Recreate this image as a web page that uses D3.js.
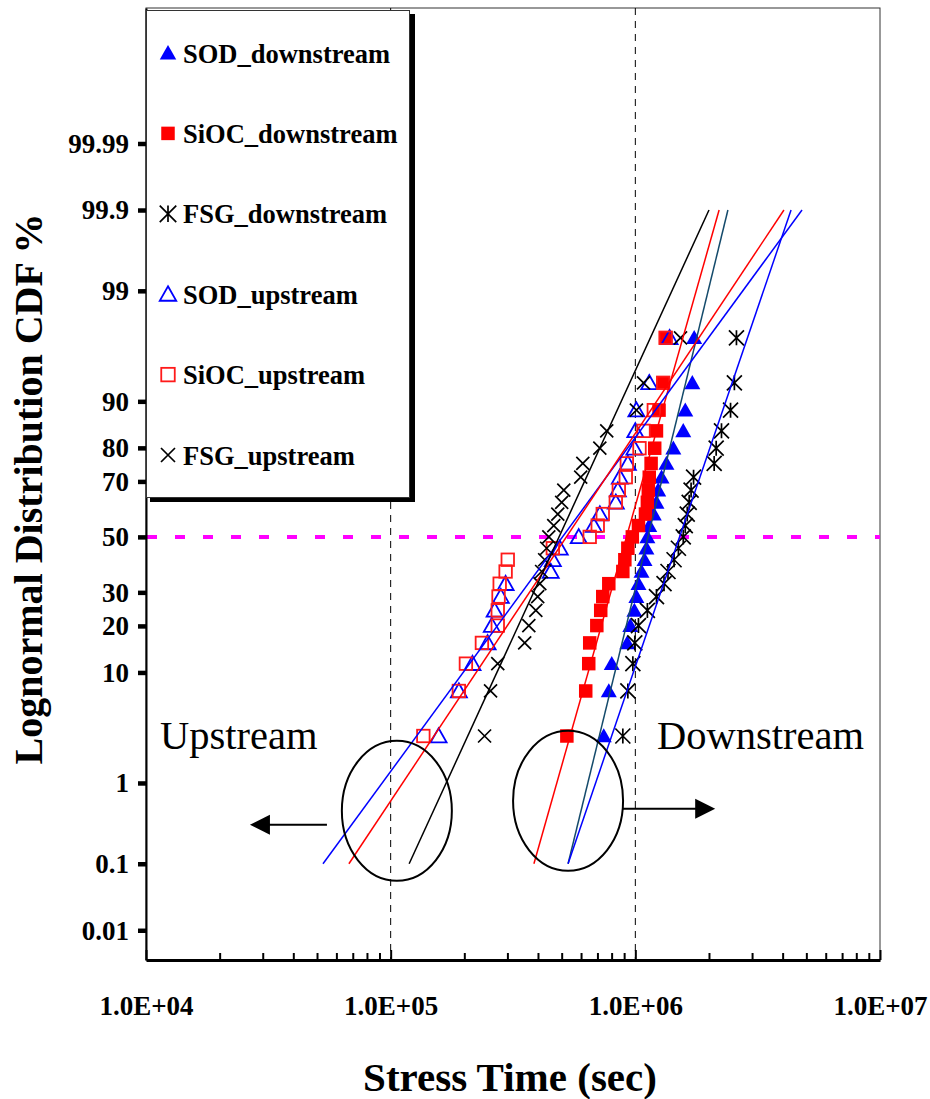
<!DOCTYPE html>
<html><head><meta charset="utf-8">
<script src="https://cdn.jsdelivr.net/npm/d3@7"></script>
<style>
body{margin:0;background:#fff}
svg{display:block}
text{font-family:"Liberation Serif","Times New Roman",serif}
</style>
</head><body>
<svg id="chart" width="930" height="1099"></svg>
<script>
// ---------------- DATA ----------------
// cumulative failure percent (median ranks) shared by every series, 23 samples each
const cdfPercent = [2.99,7.26,11.54,15.81,20.09,24.36,28.63,32.91,37.18,41.45,45.73,50.00,
                    54.27,58.55,62.82,67.09,71.37,75.64,79.91,84.19,88.46,92.74,97.01];
// failure times (sec)
const sodDownstream  = [7.43e5,7.79e5,8.01e5,9.27e5,9.54e5,9.91e5,1.01e6,1.03e6,1.06e6,1.09e6,1.11e6,1.12e6,
                        1.14e6,1.19e6,1.22e6,1.24e6,1.28e6,1.34e6,1.43e6,1.57e6,1.60e6,1.71e6,1.74e6];
const siocDownstream = [5.25e5,6.27e5,6.45e5,6.51e5,6.96e5,7.22e5,7.36e5,7.79e5,8.89e5,9.06e5,9.32e5,9.72e5,
                        1.03e6,1.10e6,1.12e6,1.13e6,1.14e6,1.16e6,1.20e6,1.22e6,1.25e6,1.30e6,1.33e6];
const fsgDownstream  = [8.89e5,9.32e5,9.77e5,9.95e5,1.03e6,1.12e6,1.22e6,1.31e6,1.36e6,1.44e6,1.50e6,1.57e6,
                        1.60e6,1.63e6,1.66e6,1.69e6,1.73e6,2.10e6,2.14e6,2.25e6,2.45e6,2.54e6,2.59e6];
const sodUpstream    = [1.57e5,1.90e5,2.16e5,2.49e5,2.59e5,2.66e5,2.82e5,2.95e5,4.51e5,4.60e5,4.91e5,5.87e5,
                        6.76e5,7.16e5,8.32e5,8.48e5,8.64e5,9.32e5,9.91e5,1.00e6,1.01e6,1.14e6,1.38e6];
const siocUpstream   = [1.36e5,1.90e5,2.03e5,2.36e5,2.74e5,2.74e5,2.76e5,2.79e5,2.95e5,3.01e5,4.60e5,6.51e5,
                        7.02e5,7.36e5,8.32e5,8.56e5,9.14e5,9.23e5,1.04e6,1.08e6,1.19e6,1.30e6,1.33e6];
const fsgUpstream    = [2.42e5,2.56e5,2.74e5,3.53e5,3.67e5,3.92e5,3.99e5,4.07e5,4.14e5,4.26e5,4.34e5,4.43e5,
                        4.64e5,4.82e5,5.00e5,5.10e5,5.98e5,6.10e5,7.16e5,7.64e5,1.01e6,1.08e6,1.53e6];

const seriesNames = ["SOD_downstream","SiOC_downstream","FSG_downstream","SOD_upstream","SiOC_upstream","FSG_upstream"];
const seriesTimes = [sodDownstream, siocDownstream, fsgDownstream, sodUpstream, siocUpstream, fsgUpstream];
// lognormal fit lines: time at 0.1 % and at 99.9 %
const fitPercents   = [0.1, 99.9];
const fitTimeLow    = [5.31e5, 3.85e5, 5.31e5, 5.29e4, 6.75e4, 1.19e5];
const fitTimeHigh   = [2.39e6, 2.20e6, 4.33e6, 4.80e6, 4.05e6, 2.00e6];

const yTickPercents = [0.01,0.1,1,10,20,30,50,70,80,90,99,99.9,99.99];
const yTickLabels   = ["0.01","0.1","1","10","20","30","50","70","80","90","99","99.9","99.99"];
const xTickValues   = [1e4,1e5,1e6,1e7];
const xTickLabels   = ["1.0E+04","1.0E+05","1.0E+06","1.0E+07"];
const refTimes      = [1e5,1e6];
const refPercent    = 50;

// ---------------- STYLE ----------------
const markerStyle = [
  {shape:"tri",  fill:"#0000ff", stroke:"none",    size:16},
  {shape:"sq",   fill:"#ff0000", stroke:"none",    size:13.5},
  {shape:"ast",  fill:"none",    stroke:"#000",    size:15},
  {shape:"tri",  fill:"none",    stroke:"#0000ff", size:16},
  {shape:"sq",   fill:"none",    stroke:"#ff1a1a", size:12.5},
  {shape:"x",    fill:"none",    stroke:"#000",    size:13}
];
const lineColors = ["#144a6b","#ff0000","#0000ff","#0000ff","#ff0000","#000000"];

// inverse standard normal CDF (Acklam)
function probit(p){
  const a=[-3.969683028665376e+01,2.209460984245205e+02,-2.759285104469687e+02,1.383577518672690e+02,-3.066479806614716e+01,2.506628277459239e+00];
  const b=[-5.447609879822406e+01,1.615858368580409e+02,-1.556989798598866e+02,6.680131188771972e+01,-1.328068155288572e+01];
  const c=[-7.784894002430293e-03,-3.223964580411365e-01,-2.400758277161838e+00,-2.549732539343734e+00,4.374664141464968e+00,2.938163982698783e+00];
  const d=[7.784695709041462e-03,3.224671290700398e-01,2.445134137142996e+00,3.754408661907416e+00];
  const pl=0.02425, ph=1-pl; let q,r;
  if(p<pl){q=Math.sqrt(-2*Math.log(p));return (((((c[0]*q+c[1])*q+c[2])*q+c[3])*q+c[4])*q+c[5])/((((d[0]*q+d[1])*q+d[2])*q+d[3])*q+1);}
  if(p<=ph){q=p-0.5;r=q*q;return (((((a[0]*r+a[1])*r+a[2])*r+a[3])*r+a[4])*r+a[5])*q/(((((b[0]*r+b[1])*r+b[2])*r+b[3])*r+b[4])*r+1);}
  q=Math.sqrt(-2*Math.log(1-p));return -(((((c[0]*q+c[1])*q+c[2])*q+c[3])*q+c[4])*q+c[5])/((((d[0]*q+d[1])*q+d[2])*q+d[3])*q+1);
}

// ---------------- SCALES ----------------
const L=146, R=880, T=8, B=960;
const x  = d3.scaleLog().domain([1e4,1e7]).range([L,R]);
const yz = d3.scaleLinear().domain([-4,5]).range([B,T]);
const y  = p => yz(probit(p/100));

const svg = d3.select("#chart");

function marker(g, st, cx, cy, s){
  if(st.shape==="tri"){
    const h=s*0.88;
    g.append("path").attr("d",`M${cx},${cy-h*0.55}L${cx+s/2},${cy+h*0.45}L${cx-s/2},${cy+h*0.45}Z`)
      .attr("fill",st.fill).attr("stroke",st.stroke).attr("stroke-width",1.8).attr("stroke-linejoin","miter");
  } else if(st.shape==="sq"){
    g.append("rect").attr("x",cx-s/2).attr("y",cy-s/2).attr("width",s).attr("height",s)
      .attr("fill",st.fill).attr("stroke",st.stroke).attr("stroke-width",1.8);
  } else if(st.shape==="ast"){
    const h=s/2;
    g.append("path").attr("d",`M${cx-h},${cy-h}L${cx+h},${cy+h}M${cx+h},${cy-h}L${cx-h},${cy+h}M${cx},${cy-h}L${cx},${cy+h}`)
      .attr("stroke",st.stroke).attr("stroke-width",1.7).attr("fill","none");
  } else {
    const h=s/2;
    g.append("path").attr("d",`M${cx-h},${cy-h}L${cx+h},${cy+h}M${cx+h},${cy-h}L${cx-h},${cy+h}`)
      .attr("stroke",st.stroke).attr("stroke-width",1.7).attr("fill","none");
  }
}

// frame
svg.append("rect").attr("x",L).attr("y",T).attr("width",R-L).attr("height",B-T)
  .attr("fill","#fff").attr("stroke","#333").attr("stroke-width",1);

// reference dashed verticals
svg.append("g").selectAll("line").data(refTimes).join("line")
  .attr("x1",d=>x(d)).attr("x2",d=>x(d)).attr("y1",T).attr("y2",B)
  .attr("stroke","#000").attr("stroke-width",1).attr("stroke-dasharray","7,6");

// 50% magenta dashed
svg.append("line").attr("x1",L+1).attr("x2",R).attr("y1",y(refPercent)).attr("y2",y(refPercent))
  .attr("stroke","#ff00ff").attr("stroke-width",4).attr("stroke-dasharray","10,18");

// markers
seriesTimes.forEach((arr,si)=>{
  const g = svg.append("g");
  arr.forEach((t,i)=> marker(g, markerStyle[si], x(t), y(cdfPercent[i]), markerStyle[si].size));
});

// fit lines
const lineGen = d3.line().x(d=>x(d[0])).y(d=>y(d[1]));
seriesTimes.forEach((arr,si)=>{
  svg.append("path").datum([[fitTimeLow[si],fitPercents[0]],[fitTimeHigh[si],fitPercents[1]]])
    .attr("d",lineGen).attr("fill","none").attr("stroke",lineColors[si]).attr("stroke-width",1.5);
});

// y axis
const yAxis = d3.axisLeft(yz).tickValues(yTickPercents.map(p=>probit(p/100)))
  .tickFormat((d,i)=>yTickLabels[i]).tickSizeInner(8).tickSizeOuter(0).tickPadding(9);
const gy = svg.append("g").attr("transform",`translate(${L},0)`).call(yAxis);
gy.select(".domain").attr("stroke","#000").attr("stroke-width",2);
gy.selectAll(".tick line").attr("stroke","#000").attr("stroke-width",4.5);
gy.selectAll(".tick text").attr("font-family","Liberation Serif").attr("font-weight","bold")
  .attr("font-size",27).attr("fill","#000").attr("dy","0.33em");

// x axis: minor + major ticks inward
const minorTicks = [];
[1e4,1e5,1e6].forEach(base=>{ for(let k=2;k<=9;k++) minorTicks.push(base*k); });
const gxm = svg.append("g").attr("transform",`translate(0,${B})`)
  .call(d3.axisBottom(x).tickValues(minorTicks).tickSizeInner(-7).tickSizeOuter(0).tickFormat(""));
gxm.select(".domain").remove();
gxm.selectAll(".tick line").attr("stroke","#000").attr("stroke-width",2);
const gx = svg.append("g").attr("transform",`translate(0,${B})`)
  .call(d3.axisBottom(x).tickValues(xTickValues).tickSizeInner(-10).tickSizeOuter(0)
        .tickFormat((d,i)=>xTickLabels[i]).tickPadding(0));
gx.select(".domain").attr("stroke","#000").attr("stroke-width",3);
gx.selectAll(".tick line").attr("stroke","#000").attr("stroke-width",2);
gx.selectAll(".tick text").attr("y",55).attr("dy",0).attr("font-family","Liberation Serif")
  .attr("font-weight","bold").attr("font-size",27).attr("fill","#000");

// axis titles
svg.append("text").attr("x",510).attr("y",1091).attr("text-anchor","middle")
  .attr("font-weight","bold").attr("font-size",41).text("Stress Time (sec)");
svg.append("text").attr("transform","translate(42,489) rotate(-90)").attr("text-anchor","middle")
  .attr("font-weight","bold").attr("font-size",40).text("Lognormal Distribution CDF %");

// legend
const lg = svg.append("g");
lg.append("rect").attr("x",150).attr("y",14).attr("width",265).attr("height",488).attr("fill","#000");
lg.append("rect").attr("x",146.5).attr("y",10.5).attr("width",263).attr("height",487)
  .attr("fill","#fff").attr("stroke","#333").attr("stroke-width",1);
seriesNames.forEach((name,i)=>{
  const cy = 53 + i*80.4;
  marker(lg, markerStyle[i], 168, cy, markerStyle[i].shape==="sq" ? 13.5 : (markerStyle[i].shape==="x"?14:16.5));
  lg.append("text").attr("x",183).attr("y",cy+9.5).attr("font-weight","bold").attr("font-size",26.5).text(name);
});

// annotations (ellipses, arrows, labels)
const ann = svg.append("g").attr("stroke","#000").attr("stroke-width",2).attr("fill","none");
const upC = [1.06e5, -2.59], downC = [5.31e5, -2.495];
ann.append("ellipse").attr("cx",x(upC[0])).attr("cy",yz(upC[1])).attr("rx",55).attr("ry",70);
ann.append("ellipse").attr("cx",x(downC[0])).attr("cy",yz(downC[1])).attr("rx",55).attr("ry",70);
// left arrow
const la = {from:5.49e4, to:2.66e4, z:-2.722};
ann.append("line").attr("x1",x(la.from)).attr("x2",x(la.to)+18).attr("y1",yz(la.z)).attr("y2",yz(la.z));
svg.append("path").attr("d",`M${x(la.to)},${yz(la.z)}l20,-10l0,20Z`).attr("fill","#000");
// right arrow
const ra = {from:8.90e5, to:2.12e6, z:-2.571};
ann.append("line").attr("x1",x(ra.from)).attr("x2",x(ra.to)-18).attr("y1",yz(ra.z)).attr("y2",yz(ra.z));
svg.append("path").attr("d",`M${x(ra.to)},${yz(ra.z)}l-20,-10l0,20Z`).attr("fill","#000");

svg.append("text").attr("x",160).attr("y",749).attr("font-size",40.5).text("Upstream");
svg.append("text").attr("x",657).attr("y",749).attr("font-size",40.5).text("Downstream");
</script>
</body></html>
